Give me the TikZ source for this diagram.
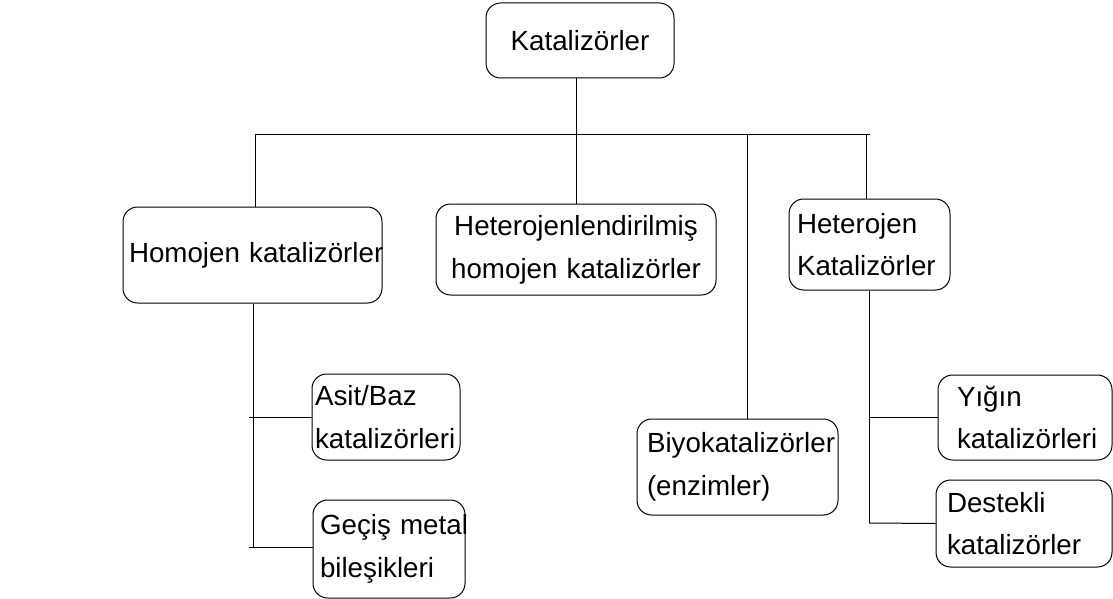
\documentclass[tikz,border=0pt]{standalone}
\usepackage{fontspec}
\setmainfont{Liberation Sans}
\usepackage{tikz}
\hyphenpenalty=10000

\tikzset{
  catbox/.style={draw, rounded corners=11pt, line width=0.75pt, inner ysep=0pt,
    font=\fontsize{20.8}{32}\selectfont, align=left},
  link/.style={line width=0.75pt}
}

\begin{document}
\begin{tikzpicture}[x=0.75pt,y=0.75pt,yscale=-1,xscale=1]
        \useasboundingbox (0,0) rectangle (1113,599);

        % Boxes
        \node [catbox, align=center, minimum width=141pt, minimum height=56.25pt] (kat) at (580,40.5) {Katalizörler};
        \node [catbox, inner xsep=4.5pt, text width=185.25pt, minimum height=72pt] (homo) at (252.5,255) {\mbox{Homojen katalizörler}};
        \node [catbox, align=center, inner xsep=4pt, text width=202pt, minimum height=68.25pt] (hetl) at (576,249.5) {Heterojenlendirilmiş\\homojen~katalizörler};
        \node [catbox, inner xsep=6pt, text width=108.75pt, minimum height=68.25pt] (hete) at (869.5,244.5) {Heterojen\\Katalizörler};
        \node [catbox, inner xsep=2.25pt, text width=106.5pt, minimum height=64.5pt] (asit) at (386,417) {Asit/Baz\\katalizörleri};
        \node [catbox, inner xsep=5.25pt, text width=103.5pt, minimum height=73.5pt] (gecis) at (389,549) {\mbox{Geçiş metal}\\bileşikleri};
        \node [catbox, inner xsep=7.5pt, text width=135.75pt, minimum height=72pt] (biyo) at (737.5,467) {Biyokatalizörler\\(enzimler)};
        \node [catbox, inner xsep=14.25pt, text width=102pt, minimum height=63.75pt] (yigin) at (1025,417.5) {Yığın\\katalizörleri};
        \node [catbox, inner xsep=8.25pt, text width=115.5pt, minimum height=65.25pt] (destek) at (1024,523.5) {Destekli\\katalizörler};

        % Bus
        \coordinate (busL) at (255,135);
        \coordinate (busR) at (870,135);
        \coordinate (busB) at (747,135);
        \coordinate (busH) at (866,135);
        \draw [link] (busL) -- (busR);
        \draw [link] (hetl.north) -- (hetl.north |- kat.south);
        \draw [link] (busL) -- (busL |- homo.north);
        \draw [link] (busB) -- (busB |- biyo.north);
        \draw [link] (busH) -- (busH |- hete.north);

        % Homojen branch
        \coordinate (homoT) at (253,547);
        \draw [link] (homoT |- homo.south) -- (homoT);
        \draw [link] ([xshift=-3pt]homoT |- asit.west) -- (asit.west);
        \draw [link] ([xshift=-3pt]homoT) -- (gecis.west |- homoT);

        % Heterojen branch
        \coordinate (heteT) at (869,523);
        \draw [link] (heteT |- hete.south) -- (heteT);
        \draw [link] (heteT |- yigin.west) -- (yigin.west);
        \draw [link] (heteT) -- (destek.west);
\end{tikzpicture}
\end{document}
